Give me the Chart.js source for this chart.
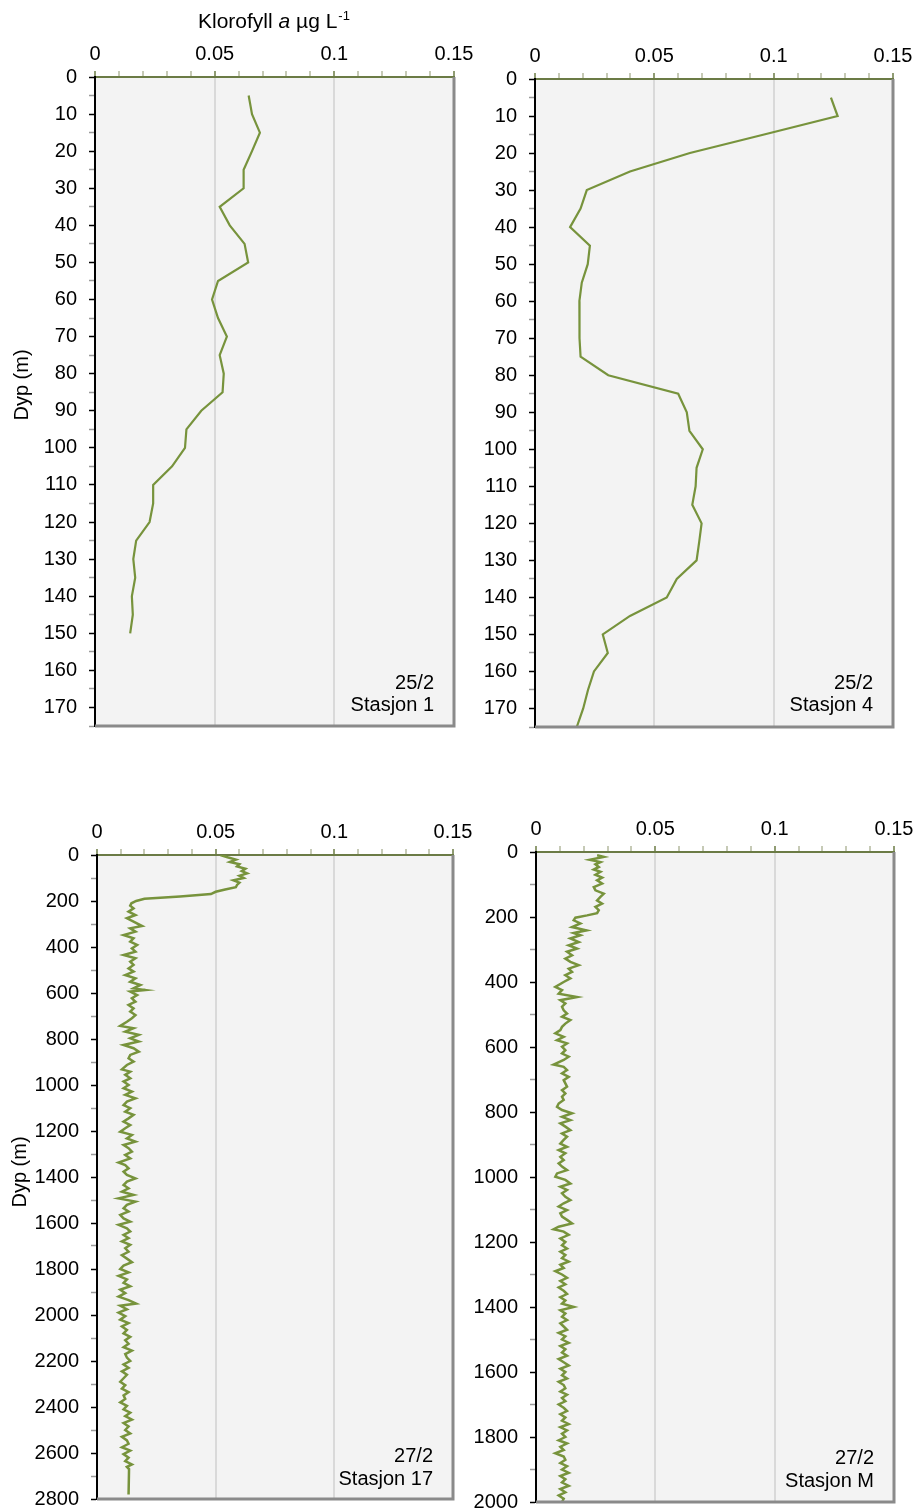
<!DOCTYPE html>
<html>
<head>
<meta charset="utf-8">
<script src="https://cdn.jsdelivr.net/npm/chart.js@4/dist/chart.umd.min.js"></script>
<style>
html,body{margin:0;padding:0;background:#fff;}
body{width:916px;height:1512px;position:relative;overflow:hidden;}
canvas{position:absolute;display:block;}
</style>
</head>
<body>
<canvas id="c1" width="490" height="760" style="left:0;top:0"></canvas>
<canvas id="c2" width="446" height="760" style="left:470px;top:0"></canvas>
<canvas id="c3" width="490" height="732" style="left:0;top:780px"></canvas>
<canvas id="c4" width="446" height="732" style="left:470px;top:780px"></canvas>
<script>
// ---------- DATA ----------
const xAxisTitle = ["Klorofyll ", "a", " µg L", "-1"];
const yAxisTitle = "Dyp (m)";
const stationNotes = [["25/2","Stasjon 1"],["25/2","Stasjon 4"],["27/2","Stasjon 17"],["27/2","Stasjon M"]];

const st1Depth = [5,10,15,20,25,30,35,40,45,50,55,60,65,70,75,80,85,90,95,100,105,110,115,120,125,130,135,140,145,150];
const st1Chl   = [0.0642,0.0656,0.0689,0.0656,0.0621,0.0621,0.0521,0.0563,0.0625,0.0640,0.0514,0.0489,0.0514,0.0551,0.0521,0.0538,0.0533,0.0444,0.0382,0.0376,0.0322,0.0243,0.0243,0.0228,0.0172,0.0160,0.0168,0.0154,0.0158,0.0147];

const st4Depth = [5,10,15,20,25,30,35,40,45,50,55,60,65,70,75,80,85,90,95,100,105,110,115,120,125,130,135,140,145,150,155,160,165,170,175];
const st4Chl   = [0.1240,0.1268,0.0960,0.0649,0.0398,0.0217,0.0191,0.0147,0.0230,0.0221,0.0196,0.0186,0.0186,0.0187,0.0191,0.0307,0.0600,0.0636,0.0647,0.0703,0.0677,0.0673,0.0659,0.0698,0.0688,0.0677,0.0594,0.0552,0.0398,0.0284,0.0305,0.0247,0.0222,0.0202,0.0175];

const st17Depth = [0,10,20,30,40,50,60,70,80,90,100,110,120,130,140,150,160,170,180,190,200,210,
 220,232,246,261,275,290,309,319,333,348,362,377,391,406,420,435,449,464,478,493,507,522,536,551,565,580,587,594,609,623,638,652,667,681,696,710,725,743,753,768,782,797,811,826,840,855,869,884,898,913,932,942,956,971,985,1000,
 1014,1029,1043,1058,1072,1087,1101,1116,1130,1145,1159,1174,1188,1203,1217,1232,1246,1261,1275,1290,1304,1319,1337,1348,1362,1377,1391,1406,1420,1435,1449,1464,1478,1493,1507,1521,1536,1550,1565,1580,1594,1608,1623,1637,1652,1666,
 1680,1695,1710,1725,1740,1755,1770,1785,1800,1815,1830,1845,1860,1875,1890,1905,1920,1935,1950,1960,1975,1990,2005,2020,2035,2050,2065,2080,2095,2110,2125,2140,2155,2170,2185,2200,2215,2230,2245,2260,2275,2290,2305,2320,2335,2350,2365,2380,2395,2410,2425,2440,2455,2470,2485,2500,2515,2530,2545,2560,2575,2590,2605,2620,2635,2650,2660,2670,2780];
const st17Chl = [0.0520,0.0550,0.0585,0.0560,0.0600,0.0590,0.0625,0.0610,0.0632,0.0600,0.0618,0.0575,0.0600,0.0590,0.0585,0.0540,0.0500,0.0480,0.0350,0.0200,0.0165,0.0145,
 0.0140,0.0154,0.0133,0.0162,0.0126,0.0154,0.0190,0.0140,0.0162,0.0112,0.0154,0.0140,0.0169,0.0147,0.0162,0.0112,0.0162,0.0140,0.0154,0.0133,0.0154,0.0119,0.0162,0.0140,0.0183,0.0154,0.0204,0.0140,0.0169,0.0147,0.0162,0.0133,0.0154,0.0140,0.0162,0.0147,0.0126,0.0098,0.0154,0.0119,0.0176,0.0140,0.0176,0.0112,0.0154,0.0176,0.0140,0.0133,0.0154,0.0126,0.0105,0.0140,0.0119,0.0140,0.0112,0.0133,
 0.0112,0.0147,0.0119,0.0162,0.0126,0.0112,0.0140,0.0119,0.0154,0.0133,0.0112,0.0140,0.0119,0.0098,0.0147,0.0126,0.0162,0.0112,0.0133,0.0147,0.0119,0.0140,0.0091,0.0119,0.0133,0.0112,0.0126,0.0162,0.0126,0.0112,0.0133,0.0105,0.0154,0.0091,0.0162,0.0126,0.0112,0.0133,0.0098,0.0112,0.0140,0.0091,0.0126,0.0140,0.0112,0.0133,
 0.0105,0.0140,0.0119,0.0133,0.0105,0.0126,0.0147,0.0112,0.0098,0.0133,0.0091,0.0126,0.0112,0.0140,0.0098,0.0119,0.0091,0.0133,0.0165,0.0098,0.0126,0.0091,0.0119,0.0098,0.0133,0.0105,0.0126,0.0112,0.0140,0.0119,0.0133,0.0112,0.0147,0.0119,0.0126,0.0140,0.0112,0.0133,0.0105,0.0126,0.0112,0.0098,0.0119,0.0105,0.0133,0.0112,0.0119,0.0098,0.0126,0.0112,0.0140,0.0119,0.0147,0.0112,0.0133,0.0119,0.0140,0.0105,0.0126,0.0133,0.0105,0.0140,0.0112,0.0133,0.0119,0.0147,0.0126,0.0135,0.0133];

const stMDepth = [10,15,24,31,38,46,54,61,70,79,87,97,108,118,128,138,149,159,169,179,188,195,202,210,220,231,241,249,256,266,277,287,297,307,318,328,338,348,359,369,379,389,400,415,425,436,446,456,466,476,487,497,507,517,528,538,548,558,569,579,589,599,610,620,630,640,654,661,671,681,692,702,712,722,733,743,753,763,774,784,794,804,815,825,835,845,856,866,876,886,897,907,917,927,938,948,958,968,979,989,999,1009,1020,1030,1040,1050,1061,1071,1081,1091,1102,1112,1122,1132,1143,1153,1161,1168,1178,1189,
 1200,1210,1220,1230,1240,1250,1260,1270,1280,1290,1300,1310,1320,1330,1340,1350,1360,1370,1380,1390,1400,1410,1420,1430,1440,1450,1460,1470,1480,1490,1500,1510,1520,1530,1540,1550,1560,1570,1580,1590,1600,1610,1620,1630,1640,1650,1660,1670,1680,1690,1700,1710,1720,1730,1740,1750,1760,1770,1780,1790,1800,1810,1820,1830,1840,1850,1860,1870,1880,1890,1900,1910,1920,1930,1940,1950,1960,1970,1980,1990,2000];
const stMChl = [0.0256,0.0284,0.0225,0.0270,0.0249,0.0263,0.0242,0.0270,0.0249,0.0277,0.0256,0.0277,0.0242,0.0249,0.0284,0.0270,0.0256,0.0277,0.0249,0.0263,0.0256,0.0214,0.0165,0.0158,0.0186,0.0151,0.0211,0.0158,0.0186,0.0144,0.0179,0.0137,0.0172,0.0130,0.0151,0.0123,0.0144,0.0179,0.0137,0.0151,0.0123,0.0144,0.0116,0.0081,0.0109,0.0095,0.0172,0.0102,0.0123,0.0109,0.0116,0.0130,0.0109,0.0144,0.0123,0.0109,0.0102,0.0081,0.0116,0.0088,0.0130,0.0109,0.0123,0.0109,0.0137,0.0116,0.0074,0.0116,0.0130,0.0109,0.0137,0.0116,0.0123,0.0130,0.0109,0.0123,0.0109,0.0116,0.0095,0.0088,0.0109,0.0151,0.0109,0.0144,0.0102,0.0123,0.0144,0.0109,0.0130,0.0116,0.0102,0.0130,0.0095,0.0123,0.0102,0.0116,0.0095,0.0109,0.0130,0.0088,0.0081,0.0123,0.0144,0.0102,0.0130,0.0109,0.0123,0.0144,0.0116,0.0095,0.0130,0.0102,0.0109,0.0130,0.0151,0.0095,0.0074,0.0116,0.0137,0.0102,
 0.0123,0.0109,0.0130,0.0102,0.0123,0.0109,0.0137,0.0102,0.0116,0.0081,0.0109,0.0130,0.0102,0.0123,0.0095,0.0116,0.0130,0.0102,0.0123,0.0109,0.0158,0.0102,0.0123,0.0109,0.0130,0.0102,0.0116,0.0130,0.0095,0.0123,0.0109,0.0137,0.0102,0.0123,0.0109,0.0130,0.0095,0.0116,0.0137,0.0102,0.0123,0.0109,0.0130,0.0095,0.0116,0.0123,0.0102,0.0130,0.0109,0.0123,0.0095,0.0116,0.0130,0.0102,0.0123,0.0109,0.0137,0.0102,0.0130,0.0109,0.0123,0.0095,0.0130,0.0102,0.0116,0.0081,0.0116,0.0123,0.0102,0.0130,0.0109,0.0137,0.0102,0.0123,0.0109,0.0137,0.0102,0.0123,0.0095,0.0116,0.0109];

// ---------- STYLE ----------
const FONT = "'Liberation Sans', Arial, Helvetica, sans-serif";
const FS = 20;
const LINE = '#77933c';
Chart.defaults.font.family = FONT;
Chart.defaults.font.size = FS;
Chart.defaults.color = '#000';

function isMult(v, m){ const r = v / m; return Math.abs(r - Math.round(r)) < 1e-6; }

const panelDeco = {
  id: 'panelDeco',
  beforeDraw(chart){
    const a = chart.chartArea, c = chart.ctx;
    c.save();
    c.fillStyle = '#f3f3f3';
    c.fillRect(a.left, a.top, a.right - a.left, a.bottom - a.top);
    c.restore();
  },
  afterDraw(chart, args, o){
    const a = chart.chartArea, c = chart.ctx;
    c.save();
    c.strokeStyle = '#8a8a8a'; c.lineWidth = 3;
    c.beginPath(); c.moveTo(a.right, a.top); c.lineTo(a.right, a.bottom); c.lineTo(a.left, a.bottom); c.stroke();
    c.fillStyle = '#000';
    c.font = FS + 'px ' + FONT;
    c.textAlign = 'right'; c.textBaseline = 'middle';
    c.fillText(o.note[0], o.noteX, o.noteY[0]);
    c.fillText(o.note[1], o.noteX, o.noteY[1]);
    if (o.yTitle) {
      c.save();
      c.translate(o.yTitle[0], o.yTitle[1]);
      c.rotate(-Math.PI/2);
      c.textAlign = 'center'; c.textBaseline = 'middle';
      c.fillText(yAxisTitle, 0, 0);
      c.restore();
    }
    if (o.title) {
      c.textAlign = 'left'; c.textBaseline = 'alphabetic';
      let x = o.title[0]; const y = o.title[1];
      c.font = '21px ' + FONT; c.fillText(xAxisTitle[0], x, y); x += c.measureText(xAxisTitle[0]).width;
      c.font = 'italic 21px ' + FONT; c.fillText(xAxisTitle[1], x, y); x += c.measureText(xAxisTitle[1]).width;
      c.font = '21px ' + FONT; c.fillText(xAxisTitle[2], x, y); x += c.measureText(xAxisTitle[2]).width;
      c.font = '13px ' + FONT; c.fillText(xAxisTitle[3], x + 1, y - 8);
    }
    c.restore();
  }
};

function makePanel(id, depth, chl, p){
  const data = depth.map((d, i) => ({x: chl[i], y: d}));
  new Chart(document.getElementById(id), {
    type: 'line',
    data: { datasets: [{ data, borderColor: LINE, borderWidth: p.lw, pointRadius: 0, fill: false, tension: 0 }] },
    plugins: [panelDeco],
    options: {
      responsive: false, animation: false, indexAxis: 'y',
      layout: { autoPadding: false, padding: { left: 0, top: 0, right: p.padR, bottom: p.padB } },
      plugins: { legend: { display: false }, tooltip: { enabled: false },
        panelDeco: { note: p.note, noteX: p.noteX, noteY: p.noteY, yTitle: p.yTitle, title: p.title } },
      scales: {
        x: {
          type: 'linear', position: 'top', min: 0, max: 0.15,
          ticks: { stepSize: 0.01, autoSkip: false, maxRotation: 0, padding: 5,
            callback: v => isMult(v, 0.05) ? String(Math.round(v * 100) / 100) : '' },
          grid: { drawOnChartArea: true, drawTicks: true, tickLength: 6, lineWidth: 2,
            color: ctx => (ctx.tick && isMult(ctx.tick.value, 0.05) && ctx.tick.value > 0.001 && ctx.tick.value < 0.149) ? '#d9d9d9' : 'rgba(0,0,0,0)',
            tickColor: ctx => (ctx.tick && isMult(ctx.tick.value, 0.05)) ? '#6b7b45' : '#b3b89e',
            tickWidth: 1.5 },
          border: { display: true, color: '#6b7b45', width: 2 },
          afterFit: s => { s.height = p.H; s.paddingLeft = 0; s.paddingRight = 0; }
        },
        y: {
          type: 'linear', position: 'left', reverse: true, min: 0, max: p.ymax,
          ticks: { stepSize: p.ystep, autoSkip: false, padding: 12,
            callback: v => isMult(v, p.ylab) ? String(v) : '' },
          grid: { drawOnChartArea: false, drawTicks: true, tickLength: 6,
            tickColor: ctx => (ctx.tick && isMult(ctx.tick.value, p.ylab)) ? '#000' : '#9a9a9a',
            tickWidth: 1.5 },
          border: { display: true, color: '#000', width: 2 },
          afterFit: s => { s.width = p.W; s.paddingTop = 0; s.paddingBottom = 0; }
        }
      }
    }
  });
}

makePanel('c1', st1Depth, st1Chl, { W: 95, H: 77, padR: 36, padB: 34, ymax: 175, ystep: 5, ylab: 10, lw: 2.2,
  note: stationNotes[0], noteX: 434, noteY: [683, 705], yTitle: [22, 385], title: [198, 28] });
makePanel('c2', st4Depth, st4Chl, { W: 65, H: 79, padR: 23, padB: 33, ymax: 175, ystep: 5, ylab: 10, lw: 2.2,
  note: stationNotes[1], noteX: 403, noteY: [683, 705] });
makePanel('c3', st17Depth, st17Chl, { W: 97, H: 75, padR: 37, padB: 13, ymax: 2800, ystep: 100, ylab: 200, lw: 2.5,
  note: stationNotes[2], noteX: 433, noteY: [676, 699], yTitle: [20, 392] });
makePanel('c4', stMDepth, stMChl, { W: 66, H: 72, padR: 22, padB: 10, ymax: 2000, ystep: 100, ylab: 200, lw: 2.5,
  note: stationNotes[3], noteX: 404, noteY: [678, 701] });
</script>
</body>
</html>
